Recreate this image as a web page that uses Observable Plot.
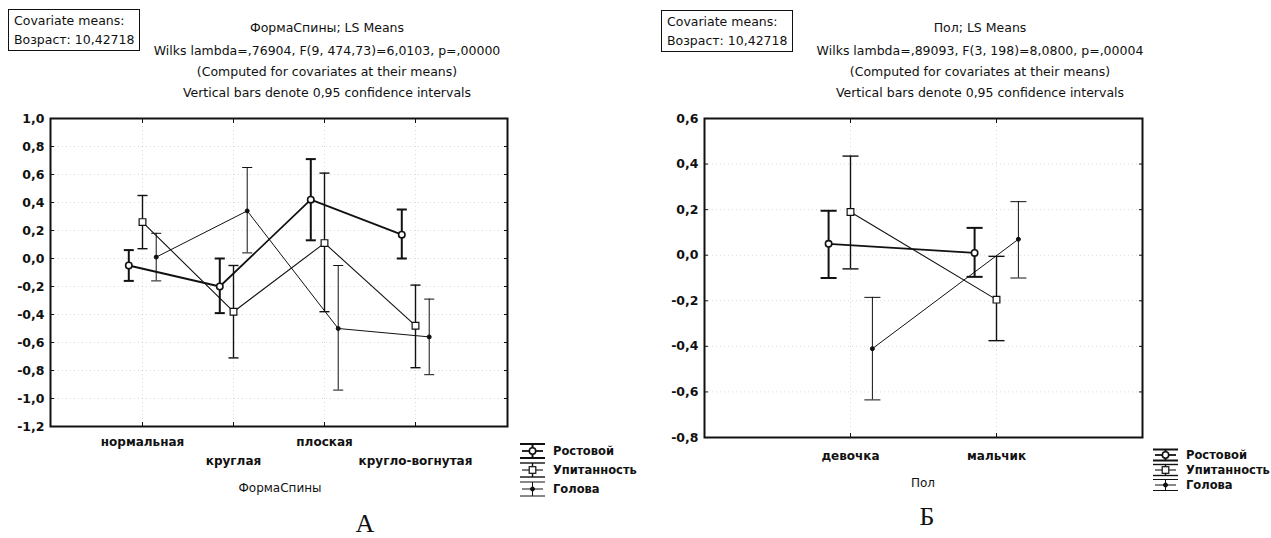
<!DOCTYPE html>
<html><head><meta charset="utf-8">
<script src="https://cdn.jsdelivr.net/npm/d3@7"></script>
<script src="https://cdn.jsdelivr.net/npm/@observablehq/plot@0.6"></script>
<style>
body{margin:0;background:#fff;}
#root{position:relative;width:1271px;height:538px;overflow:hidden;font-family:"DejaVu Sans",sans-serif;color:#111;}
.abs{position:absolute;white-space:nowrap;}
.c{transform:translate(-50%,-50%);}
.box{position:absolute;border:1.5px solid #111;padding:1px 5px;font-size:12.5px;line-height:19px;white-space:nowrap;}
.title{font-size:12.5px;}
.axt{font-size:12px;}
.cap{position:absolute;font-family:"Liberation Serif",serif;font-size:26px;line-height:26px;transform:translateX(-50%);white-space:nowrap;}
svg{position:absolute;overflow:visible;}
</style></head><body><div id="root"></div>
<script>
// ---------- data ----------
const seriesNames = ["Ростовой", "Упитанность", "Голова"];
const yTicksA = [-1.2, -1.0, -0.8, -0.6, -0.4, -0.2, 0.0, 0.2, 0.4, 0.6, 0.8, 1.0];
const yTicksB = [-0.8, -0.6, -0.4, -0.2, 0.0, 0.2, 0.4, 0.6];

// Panel A: ФормаСпины
const catsA = ["нормальная", "круглая", "плоская", "кругло-вогнутая"];
const aRostMean = [-0.05, -0.20, 0.42, 0.17];
const aRostLo   = [-0.16, -0.39, 0.13, 0.00];
const aRostHi   = [0.06, 0.00, 0.71, 0.35];
const aUpitMean = [0.26, -0.38, 0.11, -0.48];
const aUpitLo   = [0.07, -0.71, -0.38, -0.78];
const aUpitHi   = [0.45, -0.05, 0.61, -0.19];
const aGolMean  = [0.01, 0.34, -0.50, -0.56];
const aGolLo    = [-0.16, 0.04, -0.94, -0.83];
const aGolHi    = [0.18, 0.65, -0.05, -0.29];

// Panel B: Пол
const catsB = ["девочка", "мальчик"];
const bRostMean = [0.05, 0.01];
const bRostLo   = [-0.10, -0.095];
const bRostHi   = [0.195, 0.12];
const bUpitMean = [0.19, -0.195];
const bUpitLo   = [-0.06, -0.375];
const bUpitHi   = [0.435, -0.005];
const bGolMean  = [-0.41, 0.07];
const bGolLo    = [-0.635, -0.10];
const bGolHi    = [-0.185, 0.235];

const titlesA = ["ФормаСпины; LS Means",
  "Wilks lambda=,76904, F(9, 474,73)=6,0103, p=,00000",
  "(Computed for covariates at their means)",
  "Vertical bars denote 0,95 confidence intervals"];
const titlesB = ["Пол; LS Means",
  "Wilks lambda=,89093, F(3, 198)=8,0800, p=,00004",
  "(Computed for covariates at their means)",
  "Vertical bars denote 0,95 confidence intervals"];
const covLines = ["Covariate means:", "Возраст: 10,42718"];

// ---------- build ----------
function rowsOf(cats, sets) {
  const rows = [];
  sets.forEach(([m, lo, hi], si) => cats.forEach((c, i) =>
    rows.push({series: seriesNames[si], cat: c, mean: m[i], lo: lo[i], hi: hi[i]})));
  return rows;
}
const rowsA = rowsOf(catsA, [[aRostMean, aRostLo, aRostHi], [aUpitMean, aUpitLo, aUpitHi], [aGolMean, aGolLo, aGolHi]]);
const rowsB = rowsOf(catsB, [[bRostMean, bRostLo, bRostHi], [bUpitMean, bUpitLo, bUpitHi], [bGolMean, bGolLo, bGolHi]]);

const INK = "#111";
const styles = [
  {line: 1.8, bar: 2.0, symbol: "circle", r: 3.2, fill: "white", sw: 1.6},
  {line: 1.1, bar: 1.4, symbol: "square", r: 3.8, fill: "white", sw: 1.2},
  {line: 1.0, bar: 1.0, symbol: "circle", r: 2.0, fill: INK, sw: 1.0}
];
const capSym = {draw(ctx, size) { const h = Math.sqrt(size / Math.PI); ctx.moveTo(-h, 0); ctx.lineTo(h, 0); }};
const fmt = d => d.toFixed(1).replace(".", ",");

function panel({cats, rows, yTicks, width, height, ml, mr, mt, mb, stagger}) {
  const step = (width - ml - mr) / (cats.length - 1 + 2);
  const offs = [-0.15 * step, 0, 0.15 * step];
  const capR = 0.055 * step;
  const marks = [
    Plot.gridY({ticks: yTicks, stroke: "#888", strokeOpacity: 0.3, strokeDasharray: "1,3"}),
    Plot.gridX({ticks: cats, stroke: "#888", strokeOpacity: 0.3, strokeDasharray: "1,3"}),
    Plot.frame({stroke: INK, strokeWidth: 2}),
    // inward ticks
    Plot.axisY({anchor: "left", ticks: yTicks, tickSize: 4, dx: 4, tickFormat: () => "", label: null, stroke: INK}),
    Plot.axisY({anchor: "right", ticks: yTicks, tickSize: 4, dx: -4, tickFormat: () => "", label: null, stroke: INK}),
    Plot.axisX({anchor: "bottom", ticks: cats, tickSize: 4, dy: -4, tickFormat: () => "", label: null, stroke: INK}),
    Plot.axisX({anchor: "top", ticks: cats, tickSize: 4, dy: 4, tickFormat: () => "", label: null, stroke: INK}),
    // labels
    Plot.axisY({anchor: "left", ticks: yTicks, tickSize: 0, tickPadding: 6, tickFormat: fmt, label: null, fontWeight: "bold", fontSize: 12.5, fill: INK})
  ];
  if (stagger) {
    marks.push(Plot.axisX({anchor: "bottom", ticks: cats.filter((_, i) => i % 2 === 0), tickSize: 0, tickPadding: 11, label: null, fontWeight: "bold", fontSize: 12, fill: INK}));
    marks.push(Plot.axisX({anchor: "bottom", ticks: cats.filter((_, i) => i % 2 === 1), tickSize: 0, tickPadding: 30, label: null, fontWeight: "bold", fontSize: 12, fill: INK}));
  } else {
    marks.push(Plot.axisX({anchor: "bottom", ticks: cats, tickSize: 0, tickPadding: 14, label: null, fontWeight: "bold", fontSize: 12, fill: INK}));
  }
  seriesNames.forEach((s, i) => {
    const d = rows.filter(r => r.series === s);
    const st = styles[i], dx = offs[i];
    marks.push(Plot.ruleX(d, {x: "cat", y1: "lo", y2: "hi", dx, stroke: INK, strokeWidth: st.bar}));
    marks.push(Plot.dot(d, {x: "cat", y: "hi", dx, symbol: capSym, r: capR, fill: "none", stroke: INK, strokeWidth: st.bar}));
    marks.push(Plot.dot(d, {x: "cat", y: "lo", dx, symbol: capSym, r: capR, fill: "none", stroke: INK, strokeWidth: st.bar}));
    marks.push(Plot.line(d, {x: "cat", y: "mean", dx, stroke: INK, strokeWidth: st.line}));
  });
  seriesNames.forEach((s, i) => {
    const d = rows.filter(r => r.series === s);
    const st = styles[i], dx = offs[i];
    marks.push(Plot.dot(d, {x: "cat", y: "mean", dx, symbol: st.symbol, r: st.r, fill: st.fill, stroke: INK, strokeWidth: st.sw}));
  });
  return Plot.plot({
    width, height, marginLeft: ml, marginRight: mr, marginTop: mt, marginBottom: mb,
    style: {fontFamily: "DejaVu Sans, sans-serif", background: "transparent", color: INK},
    x: {type: "point", domain: cats, padding: 1, label: null},
    y: {domain: [yTicks[0], yTicks[yTicks.length - 1]], label: null},
    marks
  });
}

const root = document.getElementById("root");
function place(el, left, top) { el.style.position = "absolute"; el.style.left = left + "px"; el.style.top = top + "px"; root.appendChild(el); }

place(panel({cats: catsA, rows: rowsA, yTicks: yTicksA, width: 640, height: 538, ml: 50, mr: 133, mt: 118, mb: 112, stagger: true}), 0, 0);
place(panel({cats: catsB, rows: rowsB, yTicks: yTicksB, width: 631, height: 538, ml: 64, mr: 129, mt: 118, mb: 101, stagger: false}), 640, 0);

function text(cls, str, x, y) {
  const d = document.createElement("div");
  d.className = "abs c " + cls; d.textContent = str;
  d.style.left = x + "px"; d.style.top = y + "px"; root.appendChild(d);
}
function caption(str, x, top) {
  const d = document.createElement("div");
  d.className = "cap"; d.textContent = str;
  d.style.left = x + "px"; d.style.top = top + "px"; root.appendChild(d);
}
const titleY = [27, 50, 71, 92];
titlesA.forEach((t, i) => text("title", t, 327, titleY[i]));
titlesB.forEach((t, i) => text("title", t, 980, titleY[i]));
text("axt", "ФормаСпины", 280, 488);
text("axt", "Пол", 923, 483);
caption("А", 365, 511);
caption("Б", 927, 504);

function box(x, y) {
  const b = document.createElement("div");
  b.className = "box"; b.innerHTML = covLines.join("<br>");
  b.style.left = x + "px"; b.style.top = y + "px"; root.appendChild(b);
}
box(8, 9); box(661, 10);

// legends
const svg = d3.select(root).append("svg").attr("width", 1271).attr("height", 538).style("left", "0px").style("top", "0px");
function legend(x0, y0, gap, half) {
  const g = svg.append("g").attr("stroke", INK).attr("fill", "none");
  seriesNames.forEach((s, i) => {
    const st = styles[i], y = y0 + i * gap, cx = x0 + 12.5;
    g.append("line").attr("x1", x0).attr("x2", x0 + 25).attr("y1", y - half).attr("y2", y - half).attr("stroke-width", st.bar);
    g.append("line").attr("x1", x0).attr("x2", x0 + 25).attr("y1", y + half).attr("y2", y + half).attr("stroke-width", st.bar);
    g.append("line").attr("x1", cx).attr("x2", cx).attr("y1", y - half).attr("y2", y + half).attr("stroke-width", st.bar);
    g.append("line").attr("x1", x0 + 2).attr("x2", x0 + 23).attr("y1", y).attr("y2", y).attr("stroke-width", st.line);
    if (st.symbol === "square") g.append("rect").attr("x", cx - 3.3).attr("y", y - 3.3).attr("width", 6.6).attr("height", 6.6).attr("fill", "white").attr("stroke-width", st.sw);
    else g.append("circle").attr("cx", cx).attr("cy", y).attr("r", st.r).attr("fill", st.fill).attr("stroke-width", st.sw);
    svg.append("text").attr("x", x0 + 33).attr("y", y).attr("dy", "0.35em").attr("font-family", "DejaVu Sans").attr("font-weight", "bold").attr("font-size", 11.5).attr("fill", INK).text(s);
  });
}
legend(520, 451, 19, 7);
legend(1153, 455, 15, 5.5);
</script></body></html>
